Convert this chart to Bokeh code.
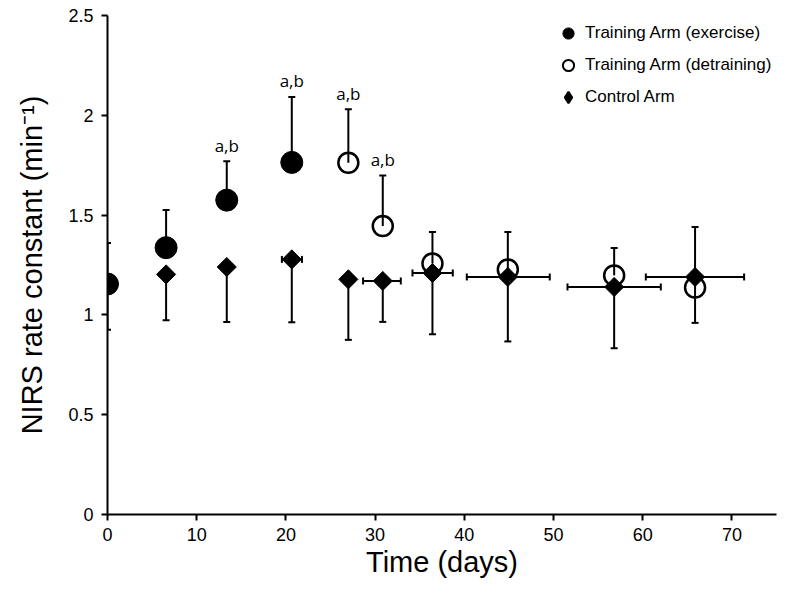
import numpy as np
from bokeh.plotting import figure
from bokeh.models import (ColumnDataSource, Range1d, FixedTicker, Whisker, TeeHead,
                          Legend, LegendItem, CustomJSTickFormatter)
from bokeh.core.properties import value
from bokeh.embed import file_html
from bokeh.resources import INLINE

# ---- data ----
# Training arm, exercise phase (filled circles, error bars upward)
ex_day = [0, 6.57, 13.37, 20.66]
ex_k = [1.155, 1.337, 1.575, 1.764]
ex_upper = [1.36, 1.525, 1.77, 2.092]
ex_sig = ["", "", "a,b", "a,b"]

# Training arm, detraining phase (open circles, error bars upward)
det_day = [27.0, 30.86, 36.43, 44.88, 56.8, 65.87]
det_k = [1.762, 1.445, 1.258, 1.228, 1.198, 1.137]
det_upper = [2.03, 1.698, 1.415, 1.415, 1.335, 1.44]
det_sig = ["a,b", "a,b", "", "", "", ""]

# Control arm (diamonds, error bars downward, horizontal day ranges)
ctl_day = [0, 6.57, 13.37, 20.66, 27.0, 30.86, 36.43, 44.88, 56.8, 65.87]
ctl_k = [1.15, 1.203, 1.24, 1.278, 1.178, 1.17, 1.21, 1.19, 1.14, 1.19]
ctl_lower = [0.925, 0.973, 0.965, 0.963, 0.875, 0.965, 0.903, 0.867, 0.833, 0.96]
ctl_day_lo = [0, 6.57, 13.37, 19.55, 27.0, 28.65, 34.19, 40.28, 51.57, 60.35]
ctl_day_hi = [0, 6.57, 13.37, 21.8, 27.0, 32.88, 38.71, 49.58, 62.03, 71.37]

x_ticks = [0, 10, 20, 30, 40, 50, 60, 70]
y_ticks = [0, 0.5, 1, 1.5, 2, 2.5]

FONT = "Liberation Sans"
W, H = 784, 584
BL, BR, BT, BB = 107, 8, 15, 70

p = figure(width=W, height=H, x_range=Range1d(0, 75), y_range=Range1d(0, 2.5),
           output_backend="svg", toolbar_location=None,
           min_border_left=BL, min_border_right=BR, min_border_top=BT, min_border_bottom=BB)
p.outline_line_color = None
p.xgrid.visible = False
p.ygrid.visible = False
p.background_fill_color = "white"

p.xaxis.ticker = FixedTicker(ticks=x_ticks)
p.yaxis.ticker = FixedTicker(ticks=y_ticks)
p.yaxis.formatter = CustomJSTickFormatter(code="return tick.toString()")
p.xaxis.formatter = CustomJSTickFormatter(code="return tick.toString()")

for ax in (p.xaxis[0], p.yaxis[0]):
    ax.axis_line_width = 2
    ax.axis_line_color = "black"
    ax.major_tick_line_width = 2
    ax.major_tick_line_color = "black"
    ax.major_tick_out = 6
    ax.major_tick_in = 0
    ax.minor_tick_out = 0
    ax.minor_tick_in = 0
    ax.major_label_text_font = FONT
    ax.major_label_text_font_size = "18px"
    ax.major_label_text_color = "black"
    ax.axis_label_text_font = FONT
    ax.axis_label_text_font_size = "29px"
    ax.axis_label_text_font_style = "normal"
    ax.axis_label_text_color = "black"

p.xaxis.axis_label = "Time (days)"
p.xaxis.major_label_standoff = 7
p.xaxis.axis_label_standoff = 2
p.yaxis.axis_label = "NIRS rate constant (min\u207b\u00b9)"
p.yaxis.major_label_standoff = 8
p.yaxis.axis_label_standoff = 17

src_ex = ColumnDataSource(dict(day=ex_day, k=ex_k, upper=ex_upper, sig=ex_sig))
src_det = ColumnDataSource(dict(day=det_day, k=det_k, upper=det_upper, sig=det_sig))
src_ctl = ColumnDataSource(dict(day=ctl_day, k=ctl_k, lower=ctl_lower))

hmask = [lo != hi for lo, hi in zip(ctl_day_lo, ctl_day_hi)]
src_ctl_h = ColumnDataSource(dict(
    k=[k for k, m in zip(ctl_k, hmask) if m],
    lo=[v for v, m in zip(ctl_day_lo, hmask) if m],
    hi=[v for v, m in zip(ctl_day_hi, hmask) if m]))

def tee():
    return TeeHead(size=7, line_width=2, line_color="black")

for src in (src_ex, src_det):
    p.add_layout(Whisker(source=src, base="day", lower="k", upper="upper", dimension="height",
                         line_width=2, line_color="black", upper_head=tee(), lower_head=None,
                         level="underlay"))
p.add_layout(Whisker(source=src_ctl, base="day", lower="lower", upper="k", dimension="height",
                     line_width=2, line_color="black", upper_head=None, lower_head=tee(),
                     level="underlay"))
p.add_layout(Whisker(source=src_ctl_h, base="k", lower="lo", upper="hi", dimension="width",
                     line_width=2, line_color="black", upper_head=tee(), lower_head=tee(),
                     level="underlay"))

r_det = p.scatter(x="day", y="k", source=src_det, marker="circle", size=20,
                  fill_color=None, line_color="black", line_width=2.5)
r_ctl = p.scatter(x="day", y="k", source=src_ctl, marker="square", angle=np.pi / 4, size=13.5,
                  fill_color="black", line_color="black", line_width=1)
r_ex = p.scatter(x="day", y="k", source=src_ex, marker="circle", size=22,
                 fill_color="black", line_color="black")

# legend proxies (small markers, as in the reference legend); NaN points draw nothing in the plot
nan_src = ColumnDataSource(dict(x=[np.nan], y=[np.nan]))
l_ex = p.scatter(x="x", y="y", source=nan_src, marker="circle", fill_color="black",
                 line_color="black")
l_det = p.scatter(x="x", y="y", source=nan_src, marker="circle", fill_color=None,
                  line_color="black", line_width=2)
l_ctl = p.scatter(x="x", y="y", source=nan_src, marker="diamond", fill_color="black",
                  line_color="black", line_width=2)

for src in (src_ex, src_det):
    p.text(x="day", y="upper", text="sig", source=src, y_offset=-16,
           text_align="center", text_baseline="middle",
           text_font=value("Open Sans"), text_font_size="17px", text_color="black")

legend = Legend(items=[
    LegendItem(label="Training Arm (exercise)", renderers=[l_ex]),
    LegendItem(label="Training Arm (detraining)", renderers=[l_det]),
    LegendItem(label="Control Arm", renderers=[l_ctl]),
], location=(447, 402.7), glyph_width=28, glyph_height=28, label_height=28,
   label_standoff=3, spacing=4, padding=0, margin=0,
   border_line_color=None, background_fill_alpha=0,
   label_text_font=FONT, label_text_font_size="17px", label_text_color="black")
p.add_layout(legend)

open("out.html", "w").write(file_html(p, INLINE))
